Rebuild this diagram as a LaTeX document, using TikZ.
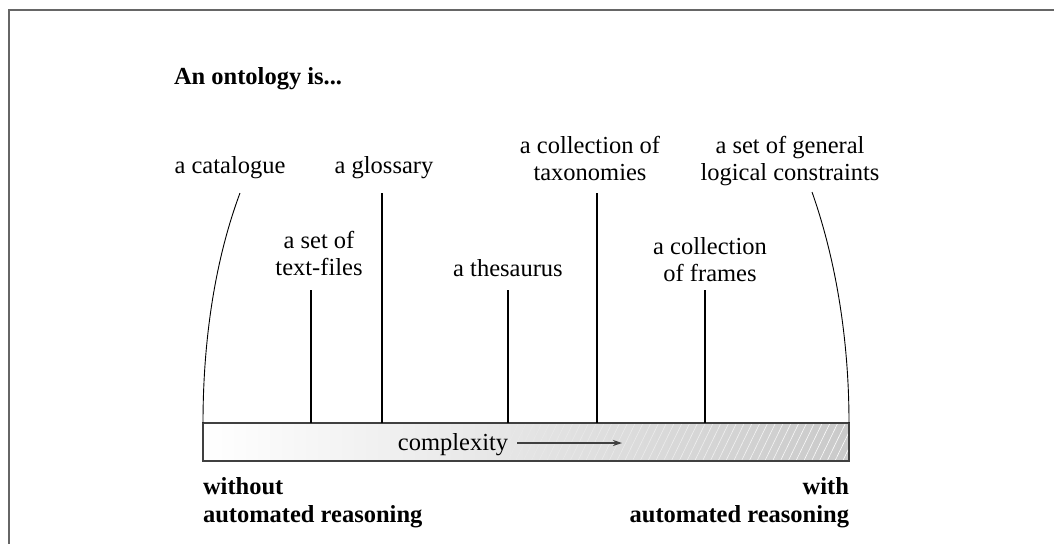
\documentclass[tikz,border=0pt]{standalone}
\usepackage{fontspec}
\setmainfont{Liberation Serif}
\usetikzlibrary{patterns.meta,fadings,arrows.meta}
\tikzfading[name=hatchfade, left color=transparent!100, right color=transparent!0]
\begin{document}
\begin{tikzpicture}[x=1pt,y=-1pt,
  every node/.style={inner sep=0pt, outer sep=0pt},
  label/.style={anchor=base, align=center, font=\fontsize{24.5}{27}\selectfont},
  side/.style={font=\fontsize{24.5}{28}\selectfont\bfseries},
  tick/.style={line width=1.1pt, black},
  curve/.style={line width=0.9pt, black},
  frameline/.style={line width=1.6pt, gray!80!black},
  bar/.style={draw=black!75, line width=1.2pt, minimum width=646pt, minimum height=38pt,
    left color=white, right color=gray!42},
  trend/.style={line width=1.2pt, black!75, -{Stealth[length=9pt,width=6pt]}}]
  \useasboundingbox (0,0) rectangle (1054,544);

  % outer frame (top and left edges)
  \draw[frameline] (1054,10) -- (9,10) -- (9,544);

  % title
  \node[anchor=base west, font=\fontsize{24.5}{27}\selectfont\bfseries] (title) at (174,84) {An ontology is...};

  % complexity bar
  \node[bar] (bar) at (526,442) {};
  \fill[pattern={Lines[angle=64,distance=7pt,line width=0.6pt]}, pattern color=white,
        path fading=hatchfade, fill opacity=0.35] (470,424) rectangle (848,460);
  \draw[draw=black!75, line width=1.2pt] (bar.north west) rectangle (bar.south east);

  \node[label] (cx) at (453,450) {complexity};
  \coordinate (cxend) at (622,443);
  \draw[trend] (cx.east |- cxend) ++(9,0) coordinate (cxstart) -- (cxend);

  % labels along the scale (base = baseline of the last line)
  \node[label] (cat) at (230,173) {a catalogue};
  \node[label] (txt) at (319,275) {a set of\\text-files};
  \node[label] (glo) at (384,173) {a glossary};
  \node[label] (the) at (508,276) {a thesaurus};
  \node[label] (tax) at (590,180) {a collection of\\taxonomies};
  \node[label] (frm) at (710,281) {a collection\\of frames};
  \node[label] (gen) at (790,180) {a set of general\\logical constraints};

  % tops of the connectors
  \coordinate (catT) at (240,193);
  \coordinate (txtT) at (311,290);
  \coordinate (gloT) at (382,193);
  \coordinate (theT) at (508,290);
  \coordinate (taxT) at (597,193);
  \coordinate (frmT) at (705,290);
  \coordinate (genT) at (812,192);

  \draw[curve] (bar.north west) .. controls (203,340) and (215,260) .. (catT);
  \draw[curve] (bar.north east) .. controls (849,340) and (836,260) .. (genT);
  \foreach \t in {txtT,gloT,theT,taxT,frmT}
    \draw[tick] (\t) -- (\t |- bar.north);

  % reasoning captions
  \node[side, anchor=base west, align=left] (wo) at (203,522) {without\\automated reasoning};
  \node[side, anchor=base east, align=right] (wi) at (849,522) {with\\automated reasoning};
\end{tikzpicture}
\end{document}
